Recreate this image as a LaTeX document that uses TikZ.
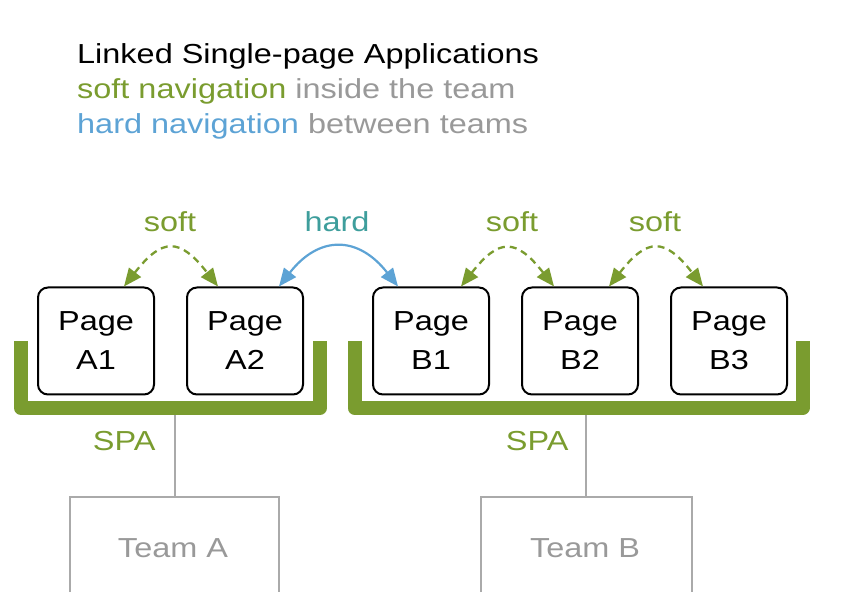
\documentclass[tikz,border=0pt]{standalone}
\usepackage{fontspec}
\setmainfont[FakeStretch=1.18]{Liberation Sans}
\usetikzlibrary{arrows.meta, positioning}
\definecolor{spagreen}{HTML}{7A9C2F}
\definecolor{hardblue}{HTML}{5DA3D5}
\definecolor{hardteal}{HTML}{3E9E9C}
\definecolor{teamgray}{HTML}{999999}
\definecolor{linegray}{HTML}{AAAAAA}

\begin{document}
\begin{tikzpicture}[x=1pt, y=-1pt,
        every node/.style={font=\fontsize{27.5}{39}\selectfont},
        page/.style={draw=black, line width=2pt, rounded corners=10pt, fill=white,
            minimum width=116pt, minimum height=107pt, align=center, inner sep=0pt},
        soft/.style={spagreen, line width=2.3pt, dash pattern=on 7pt off 5pt, {Triangle[length=18pt, width=15pt]}-{Triangle[length=18pt, width=15pt]}},
        hard/.style={hardblue, line width=2.2pt, {Triangle[length=18pt, width=15pt]}-{Triangle[length=18pt, width=15pt]}},
        bracket/.style={spagreen, line width=14pt, line join=round},
        tree/.style={linegray, line width=2pt}]
        \useasboundingbox (0,0) rectangle (844,612);

        % legend
        \node[anchor=base west, inner sep=0pt] (title) at (77,64) {Linked Single-page Applications};
        \node[anchor=base west, inner sep=0pt] (softnote) at (77,99) {\textcolor{spagreen}{soft navigation} \textcolor{teamgray}{inside the team}};
        \node[anchor=base west, inner sep=0pt] (hardnote) at (77,134) {\textcolor{hardblue}{hard navigation} \textcolor{teamgray}{between teams}};

        % SPA brackets
        \draw[bracket] (21,341) -- (21,408) -- (320,408) -- (320,341);
        \draw[bracket] (354.5,341) -- (354.5,408) -- (802.5,408) -- (802.5,341);

        % pages
        \node[page] (a1) at (96,341) {Page\\A1};
        \node[page, right=31pt of a1] (a2) {Page\\A2};
        \node[page, right=68pt of a2] (b1) {Page\\B1};
        \node[page, right=31pt of b1] (b2) {Page\\B2};
        \node[page, right=31pt of b2] (b3) {Page\\B3};

        % navigation
        \draw[soft] ([xshift=28pt]a1.north) to[out=52, in=128, looseness=1.7] ([xshift=-27pt]a2.north);
        \draw[hard] ([xshift=34pt]a2.north) to[out=52, in=128, looseness=1.4] ([xshift=-33pt]b1.north);
        \draw[soft] ([xshift=30pt]b1.north) to[out=52, in=128, looseness=1.7] ([xshift=-26pt]b2.north);
        \draw[soft] ([xshift=29pt]b2.north) to[out=52, in=128, looseness=1.7] ([xshift=-26pt]b3.north);
        \node[spagreen, anchor=base] (softa) at (170,232) {soft};
        \node[hardteal, anchor=base] (hardab) at (337,232) {hard};
        \node[spagreen, anchor=base] (softb) at (512,232) {soft};
        \node[spagreen, anchor=base] (softc) at (655,232) {soft};

        % teams
        \begin{scope}[xshift=0pt]
            \coordinate (spaa) at (175,415);
            \coordinate (teamatop) at (175,497);
            \node[spagreen, anchor=base east] (spalabela) at (159,450) {SPA};
            \node[teamgray, anchor=base] (teama) at (173,557) {Team A};
            \draw[tree] (spaa) -- (teamatop);
            \draw[tree] (70,592) -- (70,497) -- (279,497) -- (279,592);
        \end{scope}
        \begin{scope}[xshift=0pt]
            \coordinate (spab) at (586,415);
            \coordinate (teambtop) at (586,497);
            \node[spagreen, anchor=base east] (spalabelb) at (572,450) {SPA};
            \node[teamgray, anchor=base] (teamb) at (585,557) {Team B};
            \draw[tree] (spab) -- (teambtop);
            \draw[tree] (481,592) -- (481,497) -- (692,497) -- (692,592);
        \end{scope}
    \end{tikzpicture}
\end{document}
